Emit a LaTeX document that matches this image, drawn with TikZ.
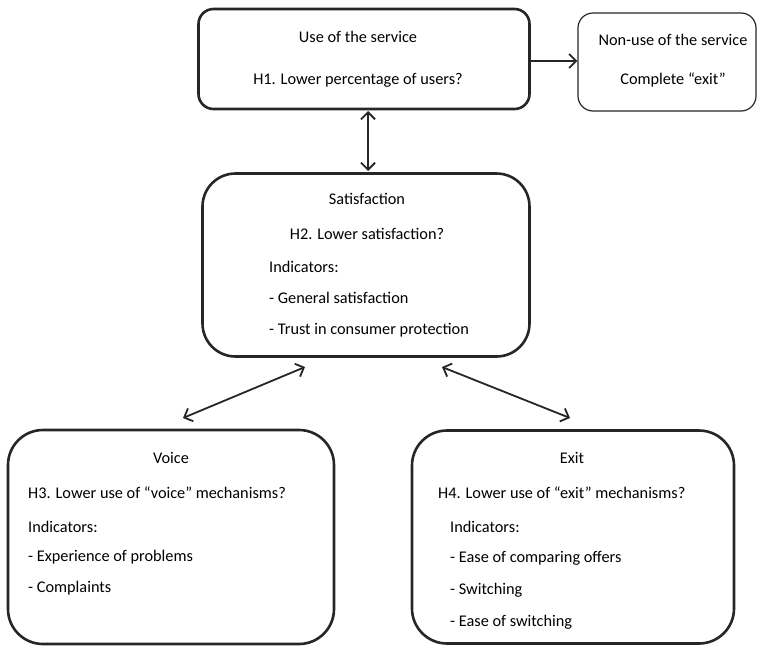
\documentclass[tikz,border=0pt]{standalone}
\usepackage{fontspec}
\setmainfont{Carlito}
\usetikzlibrary{arrows.meta}
\begin{document}
\begin{tikzpicture}[x=1pt,y=-1pt,
  box/.style={draw=black!85, line width=2.6pt, rounded corners=#1},
  box/.default=15pt,
  thinbox/.style={draw=black!85, line width=1.2pt, rounded corners=15pt},
  lbl/.style={inner sep=0pt, text=black, font=\fontsize{16.3}{19}\selectfont},
  lft/.style={lbl, anchor=west},
  conn/.style={draw=black!85, line width=1.8pt, {Straight Barb[length=7pt,width=14pt]}-{Straight Barb[length=7pt,width=14pt]}},
  conn1/.style={draw=black!85, line width=1.8pt, -{Straight Barb[length=7pt,width=14pt]}}]
\useasboundingbox (0,0) rectangle (757,646);
\fill[white] (0,0) rectangle (757,646);
% boxes
\node[box, minimum width=331pt, minimum height=100pt, inner sep=0pt] (use) at (364,59) {};
\node[thinbox, minimum width=178pt, minimum height=98pt, inner sep=0pt] (nonuse) at (667,62) {};
\node[box=33pt, minimum width=327pt, minimum height=183pt, inner sep=0pt] (sat) at (366,265) {};
\node[box=35pt, minimum width=326pt, minimum height=214pt, inner sep=0pt] (voice) at (171,537) {};
\node[box=35pt, minimum width=322pt, minimum height=213pt, inner sep=0pt] (exit) at (573,537) {};
% texts
\node[lbl] (t1) at (358,37) {Use of the service};
\node[lbl] (t2) at (358,80) {H1. Lower percentage of users?};
\node[lbl] (t3) at (673,40) {Non-use of the service};
\node[lbl] (t4) at (673,80) {Complete “exit”};
\node[lbl] (t5) at (367,199) {Satisfaction};
\node[lbl] (t6) at (367,234) {H2. Lower satisfaction?};
\node[lft] (t7) at (269,267) {Indicators:};
\node[lft] (t8) at (269,298) {- General satisfaction};
\node[lft] (t9) at (269,330) {- Trust in consumer protection};
\node[lbl] (t10) at (171,458) {Voice};
\node[lft] (t11) at (28,493) {H3. Lower use of “voice” mechanisms?};
\node[lft] (t12) at (28,527) {Indicators:};
\node[lft] (t13) at (28,557) {- Experience of problems};
\node[lft] (t14) at (28,588) {- Complaints};
\node[lbl] (t15) at (572,458) {Exit};
\node[lft] (t16) at (438,493) {H4. Lower use of “exit” mechanisms?};
\node[lft] (t17) at (450,527) {Indicators:};
\node[lft] (t18) at (450,558) {- Ease of comparing offers};
\node[lft] (t19) at (450,590) {- Switching};
\node[lft] (t20) at (450,622) {- Ease of switching};
% free ends
\coordinate (a1) at (305,367);
\coordinate (a2) at (183,418);
\coordinate (b1) at (442,367);
\coordinate (b2) at (570,418);
\coordinate (v1) at (368,111);
\coordinate (v2) at (368,171);
% connectors
\draw[conn1] (use.east |- 0,61) -- (nonuse.west |- 0,61);
\draw[conn] (v1) -- (v2);
\draw[conn] (a1) -- (a2);
\draw[conn] (b1) -- (b2);
\end{tikzpicture}
\end{document}
